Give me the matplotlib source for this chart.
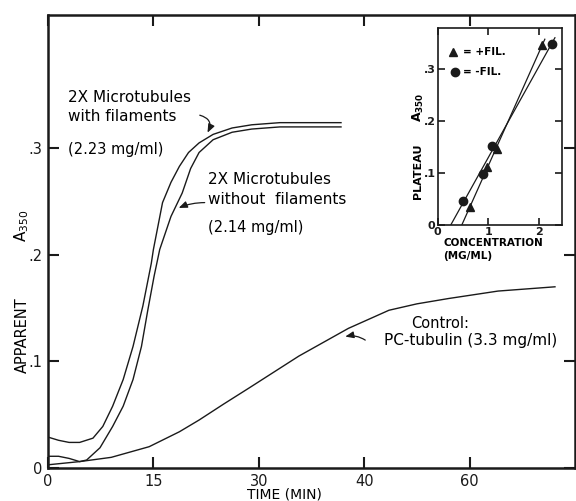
import matplotlib
matplotlib.use("Agg")
import matplotlib.pyplot as plt
import numpy as np

# --- main panel: apparent A350 vs time (min) ---
t_fil = [0, 1.5, 3, 4.5, 6.4, 7.8, 9.2, 10.7, 12.1, 13.5, 14.7, 15.0, 16.3,
         17.5, 18.7, 20.0, 21.5, 23.5, 26.2, 29.0, 32.0, 37.8]
a_fil = [0.029, 0.026, 0.024, 0.024, 0.028, 0.039, 0.058, 0.083, 0.114, 0.152,
         0.192, 0.205, 0.249, 0.268, 0.283, 0.296, 0.305, 0.313, 0.319, 0.322,
         0.324, 0.324]

t_nofil = [0, 1.5, 3, 4.5, 5.5, 7.4, 9.2, 10.7, 12.1, 13.3, 14.2, 15.1, 15.9,
           17.5, 19.1, 20.3, 21.5, 23.5, 26.2, 29.0, 32.0, 37.8]
a_nofil = [0.011, 0.011, 0.009, 0.006, 0.0075, 0.019, 0.039, 0.058, 0.083,
           0.114, 0.148, 0.180, 0.205, 0.236, 0.258, 0.281, 0.296, 0.308,
           0.315, 0.318, 0.320, 0.320]

t_ctrl = [0, 4.5, 9, 14.4, 18.7, 21.5, 25, 28.6, 33.8, 38.5, 44.7, 50, 56,
          65.4, 76.2]
a_ctrl = [0.003, 0.006, 0.010, 0.020, 0.034, 0.045, 0.060, 0.075, 0.105,
          0.131, 0.148, 0.154, 0.159, 0.166, 0.170]

time_ticks = [0, 15, 30, 40, 60]
a_ticks = [0, 0.1, 0.2, 0.3]

# --- inset: plateau A350 vs concentration ---
conc_plus = [0.63, 0.98, 1.18, 2.06]
plat_plus = [0.035, 0.112, 0.147, 0.346]
conc_minus = [0.51, 0.89, 1.07, 2.26]
plat_minus = [0.046, 0.099, 0.152, 0.349]
conc_ticks = [0, 1, 2]


def fwd(t):
    # the time axis of the original is not linear: 0,15,30,40,60 are evenly spaced
    return np.interp(t, [-100, 0, 15, 30, 40, 60, 200],
                     [-100 / 15, 0, 1, 2, 3, 4, 11])


def inv(p):
    return np.interp(p, [-100 / 15, 0, 1, 2, 3, 4, 11],
                     [-100, 0, 15, 30, 40, 60, 200])


def dec_label(v, pos=None):
    return "0" if abs(v) < 1e-9 else ("%.1f" % v).lstrip("0")


plt.rcParams["font.family"] = "DejaVu Sans"
fig = plt.figure(figsize=(5.76, 5.01), dpi=100)
ax = fig.add_axes([48 / 576, 1 - 468 / 501, 527 / 576, (468 - 15) / 501])
ax.set_xscale("function", functions=(fwd, inv))

kw = dict(color="#1a1a1a", lw=1.0)
ax.plot(t_fil, a_fil, **kw)
ax.plot(t_nofil, a_nofil, **kw)
ax.plot(t_ctrl, a_ctrl, **kw)

ax.set_xlim(0, 80)
ax.set_ylim(0, 0.425)
ax.set_xticks(time_ticks)
ax.set_xticklabels([str(v) for v in time_ticks])
ax.set_yticks(a_ticks)
ax.yaxis.set_major_formatter(plt.FuncFormatter(dec_label))
ax.tick_params(direction="in", length=8, width=1.5, top=True, right=True,
               labelsize=10.5, pad=4, colors="#1a1a1a")
for s in ax.spines.values():
    s.set_linewidth(1.8)
    s.set_color("#1a1a1a")

fig.text(284 / 576, 1 - 495 / 501, "TIME (MIN)", ha="center", va="center",
         fontsize=10)
fig.text(22 / 576, 1 - 335 / 501, "APPARENT", rotation=90, ha="center",
         va="center", fontsize=10.5)
fig.text(22 / 576, 1 - 226 / 501, "A$_{350}$", rotation=90, ha="center",
         va="center", fontsize=11)

tfs = 11
ax.text(2.8, 0.348, "2X Microtubules", fontsize=tfs, va="center")
ax.text(2.8, 0.330, "with filaments", fontsize=tfs, va="center")
ax.text(2.8, 0.299, "(2.23 mg/ml)", fontsize=tfs - 0.5, va="center")
ax.text(22.7, 0.271, "2X Microtubules", fontsize=tfs, va="center")
ax.text(22.7, 0.252, "without  filaments", fontsize=tfs, va="center")
ax.text(22.7, 0.226, "(2.14 mg/ml)", fontsize=tfs - 0.5, va="center")
ax.text(54.5, 0.136, "Control:", fontsize=tfs - 0.5, ha="center", va="center")
ax.text(60.1, 0.120, "PC-tubulin (3.3 mg/ml)", fontsize=tfs,
        ha="center", va="center")

arr = dict(arrowstyle="-|>,head_length=0.5,head_width=0.2", color="#1a1a1a",
           lw=0.9, shrinkA=0, shrinkB=0)
ax.annotate("", xy=(22.7, 0.3146), xytext=(21.6, 0.331),
            arrowprops=dict(connectionstyle="arc3,rad=-0.6", **arr))
ax.annotate("", xy=(18.6, 0.244), xytext=(22.3, 0.249),
            arrowprops=dict(connectionstyle="arc3,rad=0.1", **arr))
ax.annotate("", xy=(38.2, 0.1233), xytext=(40.2, 0.120),
            arrowprops=dict(connectionstyle="arc3,rad=0.2", **arr))

# --- inset ---
ins = fig.add_axes([437.7 / 576, 1 - 225 / 501, 124.3 / 576, 197 / 501])
ins.plot(conc_plus, plat_plus, "^", color="#1a1a1a", ms=6)
ins.plot(conc_minus, plat_minus, "o", color="#1a1a1a", ms=6)
for cx, py in ((conc_plus, plat_plus), (conc_minus, plat_minus)):
    k, b = np.polyfit(cx, py, 1)
    xs = np.array([-b / k, max(cx) + 0.06])
    ins.plot(xs, k * xs + b, color="#1a1a1a", lw=0.9)

ins.set_xlim(0, 2.46)
ins.set_ylim(0, 0.379)
ins.set_xticks(conc_ticks)
ins.set_xticklabels([str(v) for v in conc_ticks])
ins.set_yticks([0, 0.1, 0.2, 0.3])
ins.yaxis.set_major_formatter(plt.FuncFormatter(dec_label))
ins.tick_params(direction="in", length=5, width=1.2, top=True, right=True,
                labelsize=8, pad=1.5, colors="#1a1a1a")
for lab in ins.get_xticklabels() + ins.get_yticklabels():
    lab.set_fontweight("bold")
for s in ins.spines.values():
    s.set_linewidth(1.2)
    s.set_color("#1a1a1a")

ins.plot([0.123], [0.878], "^", color="#1a1a1a", ms=6, transform=ins.transAxes)
ins.plot([0.139], [0.777], "o", color="#1a1a1a", ms=6, transform=ins.transAxes)
ins.text(0.2, 0.878, "= +FIL.", transform=ins.transAxes, fontsize=7.5,
         fontweight="bold", va="center")
ins.text(0.2, 0.777, "= -FIL.", transform=ins.transAxes, fontsize=7.5,
         fontweight="bold", va="center")

fig.text(443 / 576, 1 - 243 / 501, "CONCENTRATION", fontsize=7.5,
         fontweight="bold", va="center")
fig.text(443 / 576, 1 - 256 / 501, "(MG/ML)", fontsize=7.5, fontweight="bold",
         va="center")
fig.text(418 / 576, 1 - 171 / 501, "PLATEAU", rotation=90, fontsize=8,
         fontweight="bold", ha="center", va="center")
fig.text(418 / 576, 1 - 107 / 501, "A$_{\\mathbf{350}}$", rotation=90,
         fontsize=9, fontweight="bold", ha="center", va="center")

fig.savefig("out.png", dpi=100)
